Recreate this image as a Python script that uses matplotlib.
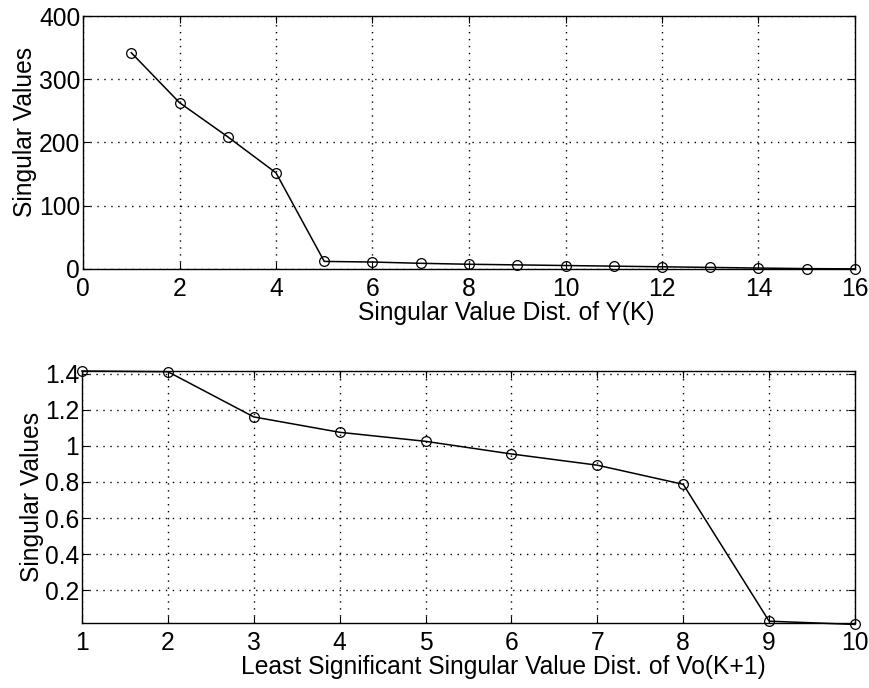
import numpy as np
import matplotlib.pyplot as plt

plt.rcParams['font.family'] = ['Liberation Sans', 'DejaVu Sans']

# top panel: singular value distribution of Y(K)
idx_y = [1, 2, 3, 4, 5, 6, 7, 8, 9, 10, 11, 12, 13, 14, 15, 16]
sv_y = [342, 263, 209, 152, 12, 11, 9, 7.5, 6.5, 5.5, 4.5, 3.5, 2.5, 1.5, 0.6, 0.2]

# bottom panel: least significant singular values of Vo(K+1)
idx_v = [1, 2, 3, 4, 5, 6, 7, 8, 9, 10]
sv_v = [1.414, 1.41, 1.16, 1.075, 1.025, 0.955, 0.893, 0.787, 0.03, 0.012]

fig = plt.figure(figsize=(8.7, 6.88), dpi=100)
ax1 = fig.add_axes([83/870, 1 - 269/688, 772/870, 253/688])
ax2 = fig.add_axes([82/870, 1 - 623/688, 773/870, 252/688])

fs = 17.7

ax1.plot(idx_y, sv_y, color="black", lw=1.1, marker="o", mfc="none",
         mec="black", ms=7, mew=0.9, clip_on=False)
ax1.set_xlim(0, 16)
ax1.set_ylim(0, 400)
ax1.set_xticks(np.arange(0, 17, 2))
ax1.set_yticks(np.arange(0, 401, 100))
ax1.set_xlabel("Singular Value Dist. of Y(K)", fontsize=fs, labelpad=0, x=0.548)
ax1.set_ylabel("Singular Values", fontsize=fs, labelpad=1, y=0.54)

ax2.plot(idx_v, sv_v, color="black", lw=1.1, marker="o", mfc="none",
         mec="black", ms=7, mew=0.9, clip_on=False)
ax2.set_xlim(1, 10)
ax2.set_ylim(0.02, 1.414)
ax2.set_xticks(np.arange(1, 11, 1))
ax2.set_yticks([0.2, 0.4, 0.6, 0.8, 1.0, 1.2, 1.4])
ax2.set_yticklabels(["0.2", "0.4", "0.6", "0.8", "1", "1.2", "1.4"])
ax2.set_xlabel("Least Significant Singular Value Dist. of Vo(K+1)", fontsize=fs,
               labelpad=0, x=0.545)
ax2.set_ylabel("Singular Values", fontsize=fs, labelpad=1)

for ax in (ax1, ax2):
    ax.grid(True, color="black", linestyle=(0, (1, 4)), linewidth=1.0)
    ax.tick_params(direction="in", top=True, right=True, labelsize=fs,
                   length=5, width=0.8)
    ax.tick_params(axis="x", pad=6)
    ax.tick_params(axis="y", pad=2)
    for s in ax.spines.values():
        s.set_linewidth(1.0)

fig.savefig("out.png", dpi=100)
